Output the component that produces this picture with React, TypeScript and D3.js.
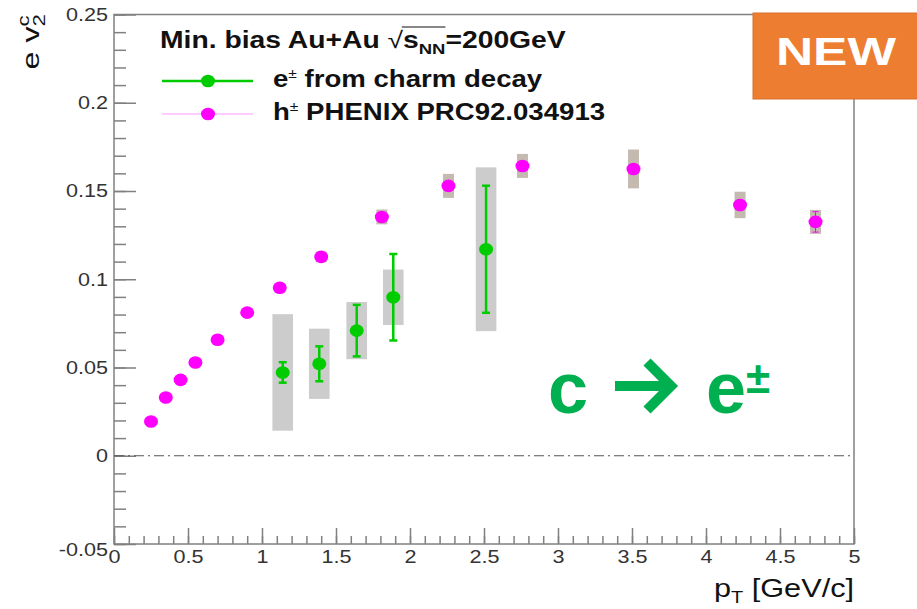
import React, { useEffect, useRef } from 'react'
import * as d3 from 'd3'

// h+- PHENIX PRC92.034913
const hadronPt = [0.25, 0.35, 0.45, 0.55, 0.70, 0.90, 1.12, 1.40, 1.81, 2.26, 2.76, 3.51, 4.23, 4.74]
const hadronV2 = [0.0194, 0.033, 0.043, 0.0528, 0.0657, 0.0811, 0.0952, 0.1127, 0.1353, 0.1529, 0.1642, 0.1625, 0.1421, 0.1325]
const hadronSys = [0, 0, 0, 0, 0, 0, 0.002, 0.003, 0.0042, 0.0068, 0.0068, 0.011, 0.0075, 0.0068]
const hadronStat = [0, 0, 0, 0, 0, 0, 0, 0, 0, 0, 0, 0, 0.003, 0.0058]

// e+- from charm decay
const charmPt = [1.14, 1.387, 1.64, 1.887, 2.514]
const charmV2 = [0.0472, 0.0521, 0.0709, 0.0898, 0.117]
const charmStat = [0.0058, 0.0099, 0.0146, 0.0245, 0.036]
const charmSys = [0.033, 0.0199, 0.0162, 0.0157, 0.0464]

const yTicks = [-0.05, 0, 0.05, 0.1, 0.15, 0.2, 0.25]
const yTickLabels = ['-0.05', '0', '0.05', '0.1', '0.15', '0.2', '0.25']
const xTicks = [0, 0.5, 1, 1.5, 2, 2.5, 3, 3.5, 4, 4.5, 5]
const xTickLabels = ['0', '0.5', '1', '1.5', '2', '2.5', '3', '3.5', '4', '4.5', '5']

const App = () => {
    const ref = useRef(null)

    useEffect(() => {
        const svg = d3.select(ref.current)
        svg.selectAll('*').remove()

        const left = 114, right = 854, top = 14.5, bottom = 544
        const font = "'Liberation Sans', Arial, sans-serif"
        const sx = 1.2
        const axisColor = '#808080'
        const green = '#00cc00'
        const magenta = '#ff00ff'

        const x = d3.scaleLinear().domain([0, 5]).range([left, right])
        const y = d3.scaleLinear().domain([-0.05, 0.25]).range([bottom, top])

        const styleAxis = g => {
            g.select('.domain').remove()
            g.attr('font-size', 18).attr('font-family', font)
            g.selectAll('line').attr('stroke', axisColor).attr('stroke-width', 1.5)
            g.selectAll('text').attr('fill', '#333').attr('transform', `scale(${sx},1)`)
        }

        // minor ticks
        svg.append('g')
            .attr('transform', `translate(${left},0)`)
            .call(d3.axisLeft(y).tickValues(d3.range(-50, 251, 10).map(v => v / 1000)).tickSize(-12).tickFormat(() => ''))
            .call(styleAxis)
        svg.append('g')
            .attr('transform', `translate(0,${bottom})`)
            .call(d3.axisBottom(x).tickValues(d3.range(0, 51).map(v => v / 10)).tickSize(-8).tickFormat(() => ''))
            .call(styleAxis)

        // major ticks
        svg.append('g')
            .attr('transform', `translate(${left},0)`)
            .call(d3.axisLeft(y).tickValues(yTicks).tickSize(-22).tickPadding(5).tickFormat((d, i) => yTickLabels[i]))
            .call(styleAxis)
            .call(g => g.selectAll('text').filter(d => d === -0.05).attr('dy', '0.65em'))
        svg.append('g')
            .attr('transform', `translate(0,${bottom})`)
            .call(d3.axisBottom(x).tickValues(xTicks).tickSize(-16).tickPadding(6).tickFormat((d, i) => xTickLabels[i]))
            .call(styleAxis)

        svg.append('rect')
            .attr('x', left).attr('y', top)
            .attr('width', right - left).attr('height', bottom - top)
            .attr('fill', 'none').attr('stroke', axisColor).attr('stroke-width', 1.5)

        svg.append('line')
            .attr('x1', left).attr('x2', right)
            .attr('y1', y(0)).attr('y2', y(0))
            .attr('stroke', '#555').attr('stroke-width', 1)
            .attr('stroke-dasharray', '10 4 2 4')

        // hadron systematics
        hadronPt.forEach((pt, i) => {
            if (hadronSys[i] > 0) {
                svg.append('rect')
                    .attr('x', x(pt) - 5.5).attr('width', 11)
                    .attr('y', y(hadronV2[i] + hadronSys[i]))
                    .attr('height', y(hadronV2[i] - hadronSys[i]) - y(hadronV2[i] + hadronSys[i]))
                    .attr('fill', '#c4bab0')
            }
        })

        // charm systematics
        charmPt.forEach((pt, i) => {
            svg.append('rect')
                .attr('x', x(pt) - 10.3).attr('width', 20.6)
                .attr('y', y(charmV2[i] + charmSys[i]))
                .attr('height', y(charmV2[i] - charmSys[i]) - y(charmV2[i] + charmSys[i]))
                .attr('fill', '#cccccc')
        })

        hadronPt.forEach((pt, i) => {
            if (hadronStat[i] > 0) {
                const g = svg.append('g').attr('stroke', magenta).attr('stroke-width', 1)
                g.append('line').attr('x1', x(pt)).attr('x2', x(pt))
                    .attr('y1', y(hadronV2[i] - hadronStat[i])).attr('y2', y(hadronV2[i] + hadronStat[i]))
                ;[-1, 1].forEach(s => {
                    g.append('line').attr('x1', x(pt) - 3).attr('x2', x(pt) + 3)
                        .attr('y1', y(hadronV2[i] + s * hadronStat[i])).attr('y2', y(hadronV2[i] + s * hadronStat[i]))
                })
            }
            svg.append('ellipse')
                .attr('cx', x(pt)).attr('cy', y(hadronV2[i]))
                .attr('rx', 7).attr('ry', 6.3)
                .attr('fill', magenta)
        })

        charmPt.forEach((pt, i) => {
            const g = svg.append('g').attr('stroke', green).attr('stroke-width', 2.5)
            g.append('line').attr('x1', x(pt)).attr('x2', x(pt))
                .attr('y1', y(charmV2[i] - charmStat[i])).attr('y2', y(charmV2[i] + charmStat[i]))
            ;[-1, 1].forEach(s => {
                g.append('line').attr('x1', x(pt) - 4).attr('x2', x(pt) + 4)
                    .attr('y1', y(charmV2[i] + s * charmStat[i])).attr('y2', y(charmV2[i] + s * charmStat[i]))
            })
            svg.append('ellipse')
                .attr('cx', x(pt)).attr('cy', y(charmV2[i]))
                .attr('rx', 7).attr('ry', 6.3)
                .attr('fill', green)
        })

        // legend
        const head = svg.append('g')
            .attr('transform', `translate(160,48) scale(1.23,1)`)
            .append('text')
            .attr('font-family', font).attr('font-size', 23).attr('font-weight', 'bold').attr('fill', '#111')
        const prefix = 'Min. bias Au+Au '
        head.append('tspan').text(prefix)
        head.append('tspan').attr('font-weight', 'normal').text('\u221A')
        head.append('tspan').text('s')
        head.append('tspan').attr('font-size', 15).attr('dy', 6).text('NN')
        head.append('tspan').attr('dy', -6).text('=200GeV')
        const node = head.node()
        if (node && node.getNumberOfChars() > 0) {
            const x0 = node.getEndPositionOfChar(prefix.length).x
            const x1 = node.getStartPositionOfChar(prefix.length + 4).x
            d3.select(node.parentNode).append('line')
                .attr('x1', x0 - 1).attr('x2', x1)
                .attr('y1', -21).attr('y2', -21)
                .attr('stroke', '#111').attr('stroke-width', 1)
        }

        const entries = [
            { label: ['e', '\u00B1', ' from charm decay'], color: green, width: 2.5, line: green, yy: 81 },
            { label: ['h', '\u00B1', ' PHENIX PRC92.034913'], color: magenta, width: 1, line: '#ff99ff', yy: 114 },
        ]
        entries.forEach(e => {
            svg.append('line').attr('x1', 162).attr('x2', 253).attr('y1', e.yy).attr('y2', e.yy)
                .attr('stroke', e.line).attr('stroke-width', e.width)
            svg.append('ellipse').attr('cx', 208).attr('cy', e.yy).attr('rx', 7).attr('ry', 6.3).attr('fill', e.color)
            const t = svg.append('g')
                .attr('transform', `translate(273,${e.yy + 6}) scale(${sx},1)`)
                .append('text')
                .attr('font-family', font).attr('font-size', 23).attr('font-weight', 'bold').attr('fill', '#111')
            t.append('tspan').text(e.label[0])
            t.append('tspan').attr('font-size', 13).attr('dy', -9).attr('font-weight', 'normal').text(e.label[1])
            t.append('tspan').attr('dy', 9).text(e.label[2])
        })

        // NEW badge
        svg.append('rect').attr('x', 753).attr('y', 13).attr('width', 170).attr('height', 86)
            .attr('fill', '#ed7d31').attr('stroke', '#d9712c').attr('stroke-width', 1)
        svg.append('g').attr('transform', 'translate(836,65) scale(1.32,1)')
            .append('text').attr('text-anchor', 'middle')
            .attr('font-family', font).attr('font-size', 39).attr('font-weight', 'bold').attr('fill', '#fff')
            .text('NEW')

        // c -> e+- annotation
        const annot = '#00b050'
        svg.append('text').attr('x', 548).attr('y', 413)
            .attr('font-family', font).attr('font-size', 72).attr('font-weight', 'bold').attr('fill', annot)
            .text('c')
        svg.append('line').attr('x1', 615).attr('x2', 670).attr('y1', 386).attr('y2', 386)
            .attr('stroke', annot).attr('stroke-width', 10)
        svg.append('polyline').attr('points', '647,362 671,386 647,410')
            .attr('fill', 'none').attr('stroke', annot).attr('stroke-width', 10).attr('stroke-linejoin', 'miter')
        svg.append('text').attr('x', 706).attr('y', 413)
            .attr('font-family', font).attr('font-size', 72).attr('font-weight', 'bold').attr('fill', annot)
            .text('e')
        svg.append('text').attr('x', 746).attr('y', 393)
            .attr('font-family', font).attr('font-size', 44).attr('font-weight', 'bold').attr('fill', annot)
            .text('\u00B1')

        // axis titles
        const yl = svg.append('text')
            .attr('transform', 'translate(39,14) rotate(-90) scale(1.4,1)')
            .attr('text-anchor', 'end')
            .attr('font-family', font).attr('font-size', 23).attr('fill', '#111')
        yl.append('tspan').text('e v')
        yl.append('tspan').attr('font-size', 16).attr('dy', 6).text('2')
        yl.append('tspan').attr('font-size', 16).attr('dx', -9).attr('dy', -16).text('c')

        const xl = svg.append('g')
            .attr('transform', `translate(854,597) scale(1.18,1)`)
            .append('text')
            .attr('text-anchor', 'end')
            .attr('font-family', font).attr('font-size', 26).attr('fill', '#111')
        xl.append('tspan').text('p')
        xl.append('tspan').attr('font-size', 17).attr('dy', 6).text('T')
        xl.append('tspan').attr('dy', -6).text(' [GeV/c]')
    }, [])

    return (
        <svg ref={ref} width={917} height={609}
            style={{ position: 'absolute', left: 0, top: 0, display: 'block', background: '#fff' }} />
    )
}

export default App
